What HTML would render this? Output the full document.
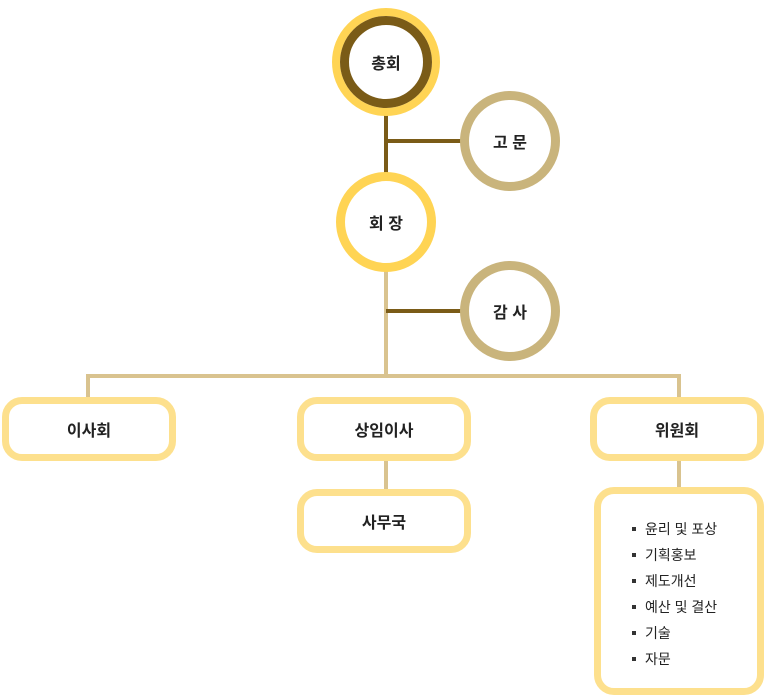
<!DOCTYPE html>
<html><head><meta charset="utf-8"><style>
body{margin:0;width:768px;height:700px;background:#fff;position:relative;font-family:"Liberation Sans","Noto Sans CJK KR",sans-serif;color:#222;overflow:hidden}
.a{position:absolute}
.c{position:absolute;border-radius:50%;box-sizing:border-box;display:flex;align-items:center;justify-content:center;font-weight:bold;font-size:16px;background:#fff}
.b{position:absolute;box-sizing:border-box;border:7px solid #fde08d;border-radius:20px;background:#fff;display:flex;align-items:center;justify-content:center;font-weight:bold;font-size:16px}
.li{position:absolute;left:632px;font-size:14px}
.li:before{content:"";position:absolute;left:0;top:8px;width:4px;height:4px;background:#333}
.li span{margin-left:13px}
</style></head><body>
<div class="a" style="left:384px;top:110px;width:4px;height:66px;background:#7a5b17"></div>
<div class="a" style="left:386px;top:139px;width:80px;height:4px;background:#7a5b17"></div>
<div class="a" style="left:384px;top:268px;width:4px;height:110px;background:#d9c38f"></div>
<div class="a" style="left:386px;top:309px;width:80px;height:4px;background:#7a5b17"></div>
<div class="a" style="left:86px;top:374px;width:595px;height:4px;background:#d9c38f"></div>
<div class="a" style="left:86px;top:374px;width:4px;height:26px;background:#d9c38f"></div>
<div class="a" style="left:677px;top:374px;width:4px;height:26px;background:#d9c38f"></div>
<div class="a" style="left:384px;top:455px;width:4px;height:38px;background:#d9c38f"></div>
<div class="a" style="left:677px;top:455px;width:4px;height:36px;background:#d9c38f"></div>
<div class="c" style="left:332px;top:8px;width:108px;height:108px;border:8px solid #ffd454"><div class="c" style="position:static;width:92px;height:92px;border:9px solid #7a5b17">총회</div></div>
<div class="c" style="left:460px;top:91px;width:100px;height:100px;border:9px solid #c9b47c">고 문</div>
<div class="c" style="left:336px;top:172px;width:100px;height:100px;border:9px solid #ffd454">회 장</div>
<div class="c" style="left:460px;top:261px;width:100px;height:100px;border:9px solid #c9b47c">감 사</div>
<div class="b" style="left:2px;top:397px;width:174px;height:64px">이사회</div>
<div class="b" style="left:297px;top:397px;width:174px;height:64px">상임이사</div>
<div class="b" style="left:590px;top:397px;width:174px;height:64px">위원회</div>
<div class="b" style="left:297px;top:489px;width:174px;height:64px">사무국</div>
<div class="b" style="left:594px;top:487px;width:170px;height:208px"></div>
<div class="li" style="top:519px"><span>윤리 및 포상</span></div>
<div class="li" style="top:545px"><span>기획홍보</span></div>
<div class="li" style="top:571px"><span>제도개선</span></div>
<div class="li" style="top:597px"><span>예산 및 결산</span></div>
<div class="li" style="top:623px"><span>기술</span></div>
<div class="li" style="top:649px"><span>자문</span></div>
</body></html>
